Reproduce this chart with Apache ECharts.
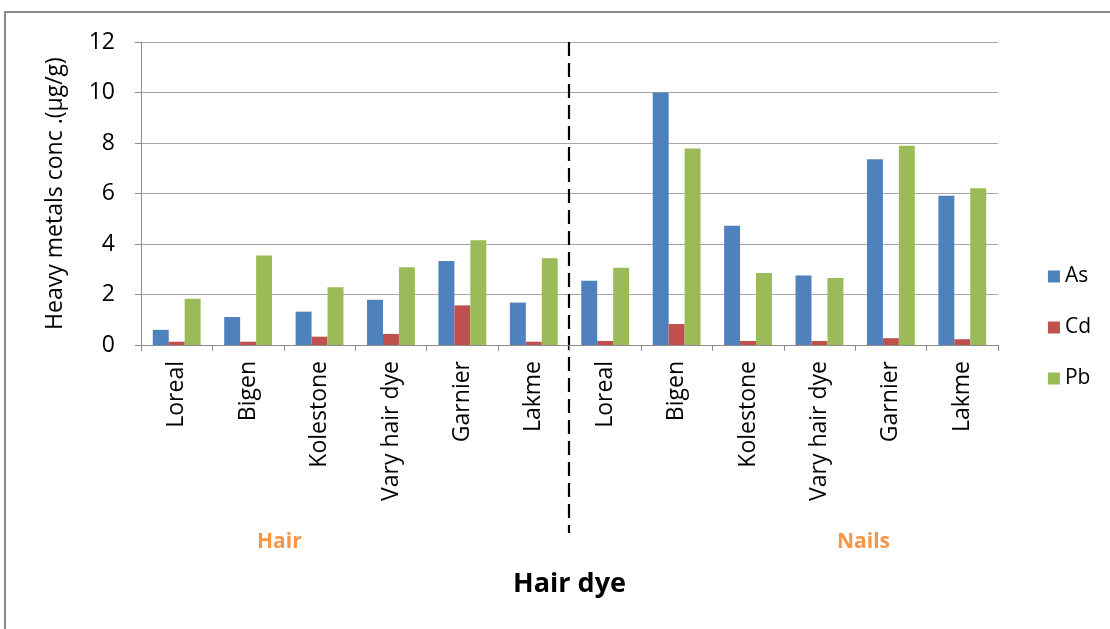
<!DOCTYPE html>
<html>
<head>
<meta charset="utf-8">
<script src="https://cdn.jsdelivr.net/npm/echarts@6/dist/echarts.min.js"></script>
<style>
  html, body { margin: 0; padding: 0; background: #fff; }
  #chart { width: 1110px; height: 629px; }
</style>
</head>
<body>
<div id="chart"></div>
<script>
// brands, same order for hair and nails
var brands = ["Loreal", "Bigen", "Kolestone", "Vary hair dye", "Garnier", "Lakme"];
var categories = brands.concat(brands);
var groups = ["Hair", "Nails"];

// µg/g (hair first 6, nails last 6)
var asVals = [0.6, 1.11, 1.32, 1.79, 3.33, 1.68, 2.54, 10.0, 4.72, 2.75, 7.36, 5.91];
var cdVals = [0.13, 0.13, 0.33, 0.44, 1.57, 0.13, 0.16, 0.83, 0.16, 0.16, 0.27, 0.23];
var pbVals = [1.83, 3.54, 2.29, 3.08, 4.15, 3.44, 3.06, 7.78, 2.85, 2.65, 7.89, 6.21];

var yTicks = { min: 0, max: 12, interval: 2 };

var font = "'Open Sans', sans-serif";
var chart = echarts.init(document.getElementById("chart"));

var option = {
  animation: false,
  color: ["#4F81BD", "#C0504D", "#9BBB59"],
  textStyle: { fontFamily: font },
  grid: { left: 141, right: 112, top: 42, bottom: 284 },
  legend: {
    orient: "vertical",
    right: 14,
    top: 261,
    itemWidth: 12,
    itemHeight: 12,
    itemGap: 30,
    icon: "rect",
    textStyle: { fontSize: 21, color: "#000", fontFamily: font },
    data: ["As", "Cd", "Pb"]
  },
  xAxis: {
    type: "category",
    data: categories,
    name: "Hair dye",
    nameLocation: "middle",
    nameGap: 226,
    nameTextStyle: { fontSize: 27, fontWeight: "bold", color: "#000", fontFamily: font },
    axisLine: { lineStyle: { color: "#8c8c8c", width: 1 } },
    axisTick: { show: true, alignWithLabel: false, length: 6, lineStyle: { color: "#8c8c8c" } },
    axisLabel: {
      interval: 0,
      rotate: 90,
      margin: 16,
      fontSize: 23,
      color: "#000",
      fontFamily: font
    }
  },
  yAxis: {
    type: "value",
    min: yTicks.min,
    max: yTicks.max,
    interval: yTicks.interval,
    name: "Heavy metals conc .(µg/g)",
    nameLocation: "middle",
    nameGap: 74,
    nameTextStyle: { fontSize: 23, color: "#000", fontFamily: font },
    axisLine: { show: true, lineStyle: { color: "#8c8c8c" } },
    axisTick: { show: true, length: 6, lineStyle: { color: "#8c8c8c" } },
    axisLabel: { fontSize: 23, color: "#000", margin: 26, fontFamily: font },
    splitLine: { lineStyle: { color: "#a6a6a6", width: 1 } }
  },
  series: [
    { name: "As", type: "bar", data: asVals, barGap: "0%", barCategoryGap: "33%" },
    { name: "Cd", type: "bar", data: cdVals, barGap: "0%", barCategoryGap: "33%" },
    { name: "Pb", type: "bar", data: pbVals, barGap: "0%", barCategoryGap: "33%" }
  ]
};

chart.setOption(option);

// separator between hair and nails, placed from the axis scale
var x5 = chart.convertToPixel({ xAxisIndex: 0 }, 5);
var x6 = chart.convertToPixel({ xAxisIndex: 0 }, 6);
var sepX = Math.round((x5 + x6) / 2) - 1;
var yTop = chart.convertToPixel({ yAxisIndex: 0 }, yTicks.max);

chart.setOption({
  graphic: [
    {
      type: "rect",
      shape: { x: 5, y: 12, width: 1200, height: 700 },
      style: { fill: null, stroke: "#8a8a8a", lineWidth: 2 },
      silent: true
    },
    {
      type: "line",
      shape: { x1: sepX, y1: yTop, x2: sepX, y2: 533 },
      style: { stroke: "#000", lineWidth: 2.2, lineDash: [14, 7] },
      silent: true
    },
    {
      type: "text",
      left: 257, top: 532,
      style: { text: groups[0], fill: "#F79646", fontSize: 21, fontWeight: "bold", fontFamily: font }
    },
    {
      type: "text",
      left: 837, top: 532,
      style: { text: groups[1], fill: "#F79646", fontSize: 21, fontWeight: "bold", fontFamily: font }
    }
  ]
});
</script>
</body>
</html>
